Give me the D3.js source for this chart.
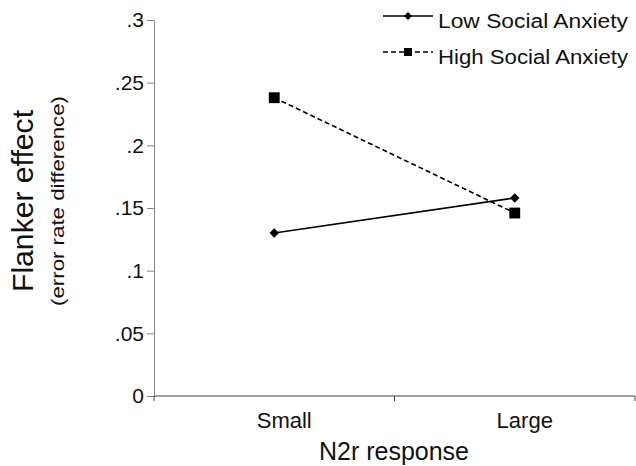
<!DOCTYPE html>
<html>
<head>
<meta charset="utf-8">
<script src="https://cdn.jsdelivr.net/npm/d3@7"></script>
<style>
  body { margin: 0; background: #fff; }
  text { font-family: "Liberation Sans", Arial, sans-serif; fill: #111; }
</style>
</head>
<body>
<div id="chart"></div>
<script>
// Data
const categories = ['Small', 'Large'];
const lowAnxiety = [0.130, 0.158];
const highAnxiety = [0.238, 0.146];
const yTicks = [0, 0.05, 0.1, 0.15, 0.2, 0.25, 0.3];
const yTickLabels = ['0', '.05', '.1', '.15', '.2', '.25', '.3'];
const seriesNames = ['Low Social Anxiety', 'High Social Anxiety'];

const width = 636;
const height = 466;

const svg = d3.select('#chart')
  .append('svg')
  .attr('width', width)
  .attr('height', height);

// Scales
const x = d3.scaleBand()
  .domain(categories)
  .range([154, 635]);
const y = d3.scaleLinear()
  .domain([0, 0.3])
  .range([396, 20]);

// Y axis
const yAxis = svg.append('g')
  .attr('transform', 'translate(154,0)')
  .call(d3.axisLeft(y)
    .tickValues(yTicks)
    .tickFormat((d, i) => yTickLabels[i])
    .tickSize(7)
    .tickSizeOuter(0)
    .tickPadding(3));
yAxis.select('.domain').attr('stroke', '#888');
yAxis.selectAll('.tick line').attr('stroke', '#888');
yAxis.selectAll('.tick text')
  .style('font-size', '21px')
  .attr('fill', '#111');

// X axis - ticks sit on band boundaries
const xAxis = svg.append('g')
  .attr('transform', 'translate(0,396)');
xAxis.append('line')
  .attr('x1', x.range()[0])
  .attr('x2', x.range()[1])
  .attr('stroke', '#444');
const boundaries = categories.map((c) => x(c)).concat([x.range()[1]]);
xAxis.selectAll('.xtick')
  .data(boundaries)
  .enter()
  .append('line')
  .attr('x1', (d) => d)
  .attr('x2', (d) => d)
  .attr('y1', 0)
  .attr('y2', 5)
  .attr('stroke', '#444');
xAxis.selectAll('.xlabel')
  .data(categories)
  .enter()
  .append('text')
  .attr('x', (d) => x(d) + x.bandwidth() / 2 + 10)
  .attr('y', 32)
  .attr('text-anchor', 'middle')
  .style('font-size', '22px')
  .text((d) => d);

// Axis titles
svg.append('text')
  .attr('x', 394)
  .attr('y', 460)
  .attr('text-anchor', 'middle')
  .style('font-size', '25px')
  .text('N2r response');

svg.append('text')
  .attr('transform', 'translate(33,201) rotate(-90)')
  .attr('text-anchor', 'middle')
  .attr('textLength', 182)
  .attr('lengthAdjust', 'spacingAndGlyphs')
  .style('font-size', '30px')
  .text('Flanker effect');

svg.append('text')
  .attr('transform', 'translate(64,201) rotate(-90)')
  .attr('text-anchor', 'middle')
  .attr('textLength', 210)
  .attr('lengthAdjust', 'spacingAndGlyphs')
  .style('font-size', '19px')
  .text('(error rate difference)');

// Series
const cx = (i) => x(categories[i]) + x.bandwidth() / 2;
const line = d3.line()
  .x((d, i) => cx(i))
  .y((d) => y(d));

svg.append('path')
  .datum(highAnxiety)
  .attr('d', line)
  .attr('fill', 'none')
  .attr('stroke', '#000')
  .attr('stroke-width', 1.6)
  .attr('stroke-dasharray', '5,3');

svg.append('path')
  .datum(lowAnxiety)
  .attr('d', line)
  .attr('fill', 'none')
  .attr('stroke', '#000')
  .attr('stroke-width', 1.6);

const diamond = d3.symbol().type(d3.symbolDiamond2).size(58);
const square = d3.symbol().type(d3.symbolSquare2).size(150);

svg.selectAll('.lowpt')
  .data(lowAnxiety)
  .enter()
  .append('path')
  .attr('d', diamond)
  .attr('transform', (d, i) => `translate(${cx(i)},${y(d)})`)
  .attr('fill', '#000');

svg.selectAll('.highpt')
  .data(highAnxiety)
  .enter()
  .append('path')
  .attr('d', square)
  .attr('transform', (d, i) => `translate(${cx(i)},${y(d)})`)
  .attr('fill', '#000');

// Legend
const legend = svg.append('g');
const legendRows = [
  { name: seriesNames[0], y: 16, dash: null, symbol: d3.symbol().type(d3.symbolDiamond2).size(42) },
  { name: seriesNames[1], y: 52, dash: '5,3', symbol: d3.symbol().type(d3.symbolSquare2).size(82) },
];
legendRows.forEach((r) => {
  legend.append('line')
    .attr('x1', 383)
    .attr('x2', 433)
    .attr('y1', r.y)
    .attr('y2', r.y)
    .attr('stroke', '#000')
    .attr('stroke-width', 1.6)
    .attr('stroke-dasharray', r.dash);
  legend.append('path')
    .attr('d', r.symbol)
    .attr('transform', `translate(408,${r.y})`)
    .attr('fill', '#000');
  legend.append('text')
    .attr('x', 438)
    .attr('y', r.y + 12)
    .attr('textLength', 190)
    .attr('lengthAdjust', 'spacingAndGlyphs')
    .style('font-size', '20px')
    .text(r.name);
});
</script>
</body>
</html>
